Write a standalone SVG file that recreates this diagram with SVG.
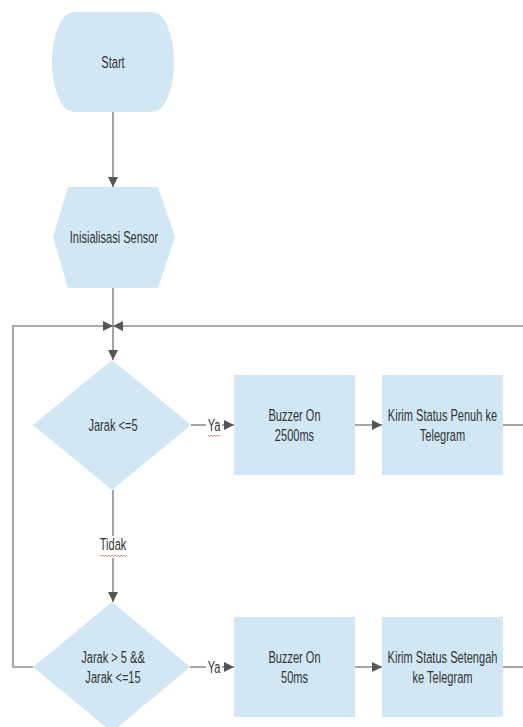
<svg xmlns="http://www.w3.org/2000/svg" width="523" height="727" viewBox="0 0 523 727">
<style>
.shape{fill:#d2e7f4;stroke:none}
.ln{fill:none;stroke:#8e8e8e;stroke-width:1.6}
.t{font-family:"Liberation Sans",Arial,sans-serif;font-size:17px;fill:#333;text-anchor:middle}
.sq{fill:none;stroke:#e06060;stroke-width:0.8}
</style>
<defs>
<marker id="ah" viewBox="0 0 10 10" refX="10" refY="5" markerWidth="10" markerHeight="10" markerUnits="userSpaceOnUse" orient="auto">
<path d="M0,0 L10,5 L0,10 Z" fill="#555"/>
</marker>
</defs>
<rect width="523" height="727" fill="#fff"/>
<g id="connectors">
<line class="ln" x1="113" y1="112" x2="113" y2="187" marker-end="url(#ah)"/>
<line class="ln" x1="113" y1="288" x2="113" y2="326"/>
<line class="ln" x1="113" y1="326" x2="113" y2="360" marker-end="url(#ah)"/>
<polyline class="ln" points="33,667 13,667 13,326 113,326" marker-end="url(#ah)"/>
<line class="ln" x1="523" y1="326" x2="113" y2="326" marker-end="url(#ah)"/>
<line class="ln" x1="113" y1="490" x2="113" y2="536"/>
<line class="ln" x1="113" y1="558" x2="113" y2="602" marker-end="url(#ah)"/>
<line class="ln" x1="191" y1="425" x2="206" y2="425"/>
<line class="ln" x1="222" y1="425" x2="234" y2="425" marker-end="url(#ah)"/>
<line class="ln" x1="355" y1="425" x2="382" y2="425" marker-end="url(#ah)"/>
<line class="ln" x1="503" y1="425" x2="523" y2="425"/>
<line class="ln" x1="190" y1="667" x2="206" y2="667"/>
<line class="ln" x1="222" y1="667" x2="234" y2="667" marker-end="url(#ah)"/>
<line class="ln" x1="355" y1="667" x2="382" y2="667" marker-end="url(#ah)"/>
<line class="ln" x1="503" y1="667" x2="523" y2="667"/>
<text class="t" transform="translate(214,431) scale(0.65,1)">Ya</text>
<path class="sq" d="M208,435 l1.5,1.5 l1.5,-1.5 l1.5,1.5 l1.5,-1.5 l1.5,1.5 l1.5,-1.5 l1.5,1.5 l1.5,-1.5"/>
<text class="t" transform="translate(113,550) scale(0.65,1)">Tidak</text>
<path class="sq" d="M100,555 l1.5,1.5 l1.5,-1.5 l1.5,1.5 l1.5,-1.5 l1.5,1.5 l1.5,-1.5 l1.5,1.5 l1.5,-1.5 l1.5,1.5 l1.5,-1.5 l1.5,1.5 l1.5,-1.5 l1.5,1.5 l1.5,-1.5 l1.5,1.5 l1.5,-1.5 l1.5,1.5 l1.5,-1.5"/>
<text class="t" transform="translate(214,673) scale(0.65,1)">Ya</text>
</g>
<g id="start">
<path class="shape" d="M76,12 H150 Q160,12 165,21 C177,44 177,80 165,103 Q160,112 150,112 H76 Q66,112 61,103 C49,80 49,44 61,21 Q66,12 76,12 Z"/>
<text class="t" transform="translate(113,68) scale(0.65,1)">Start</text>
</g>
<g id="init">
<polygon class="shape" points="68,187 158,187 175,237 158,288 68,288 53,237"/>
<text class="t" transform="translate(114,243) scale(0.65,1)">Inisialisasi Sensor</text>
</g>
<g id="cond1">
<polygon class="shape" points="112,360 191,425 112,490 33,425"/>
<text class="t" transform="translate(113,431) scale(0.65,1)">Jarak &lt;=5</text>
</g>
<g id="buzzer1">
<rect class="shape" x="234" y="375" width="121" height="100"/>
<text class="t" transform="translate(294.5,421) scale(0.65,1)">Buzzer On</text>
<text class="t" transform="translate(294.5,441) scale(0.65,1)">2500ms</text>
</g>
<g id="kirim1">
<rect class="shape" x="382" y="375" width="121" height="100"/>
<text class="t" transform="translate(442.5,421) scale(0.65,1)">Kirim Status Penuh ke</text>
<text class="t" transform="translate(442.5,441) scale(0.65,1)">Telegram</text>
</g>
<g id="cond2">
<polygon class="shape" points="112,602 190,667 112,732 33,667"/>
<text class="t" transform="translate(113,663) scale(0.65,1)">Jarak &gt; 5 &amp;&amp;</text>
<text class="t" transform="translate(113,683) scale(0.65,1)">Jarak &lt;=15</text>
</g>
<g id="buzzer2">
<rect class="shape" x="234" y="617" width="121" height="100"/>
<text class="t" transform="translate(294.5,663) scale(0.65,1)">Buzzer On</text>
<text class="t" transform="translate(294.5,683) scale(0.65,1)">50ms</text>
</g>
<g id="kirim2">
<rect class="shape" x="382" y="617" width="121" height="100"/>
<text class="t" transform="translate(442.5,663) scale(0.65,1)">Kirim Status Setengah</text>
<text class="t" transform="translate(442.5,683) scale(0.65,1)">ke Telegram</text>
</g>
</svg>
